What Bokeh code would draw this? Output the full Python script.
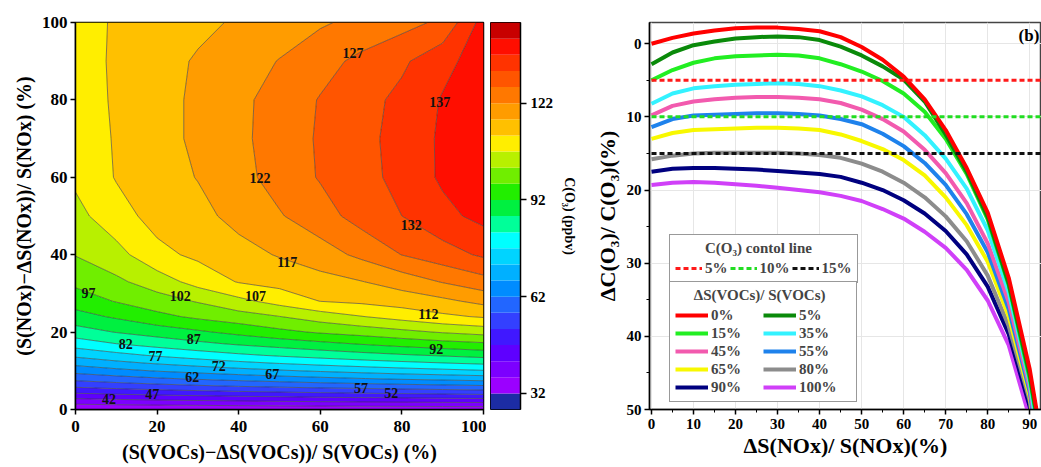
import numpy as np
from bokeh.plotting import figure
from bokeh.layouts import row
from bokeh.models import Range1d, FixedTicker, Legend, LegendItem
from bokeh.embed import file_html
from bokeh.resources import INLINE
from bokeh.core.properties import value

SERIF = "Liberation Serif"

# ---------------- panel (a): O3 isopleth ----------------
voc_grid = [0, 10, 20, 30, 40, 50, 60, 70, 80, 90, 100]
nox_grid = [0, 2, 4, 6, 8, 10, 12, 14, 17, 20, 24, 28, 33, 40, 50, 60, 70, 80, 90, 100]
o3_ppbv = [
    [32.5, 32.6, 32.7, 32.8, 32.9, 33.0, 33.1, 33.2, 33.3, 33.4, 33.5],
    [39.1, 39.7, 40.3, 40.7, 41.1, 41.5, 41.9, 42.2, 42.4, 42.7, 42.9],
    [46.3, 47.2, 48.0, 48.7, 49.4, 50.0, 50.6, 51.1, 51.6, 52.0, 52.5],
    [52.9, 54.1, 55.2, 56.2, 57.1, 57.9, 58.7, 59.3, 60.0, 60.6, 61.2],
    [58.6, 60.1, 61.5, 62.7, 63.8, 64.9, 65.9, 66.9, 67.8, 68.5, 69.3],
    [63.8, 65.6, 67.3, 68.7, 70.1, 71.4, 72.6, 73.7, 74.8, 75.7, 76.6],
    [68.6, 70.7, 72.6, 74.3, 75.9, 77.3, 78.6, 79.8, 80.9, 81.9, 82.9],
    [73.1, 75.4, 77.6, 79.4, 81.1, 82.6, 83.9, 85.2, 86.4, 87.5, 88.7],
    [79.4, 82.0, 84.0, 85.9, 87.7, 89.2, 90.8, 92.4, 93.9, 95.2, 96.3],
    [84.7, 87.2, 89.2, 91.2, 93.4, 95.7, 97.6, 99.0, 100.7, 102.4, 103.8],
    [90.1, 92.7, 95.6, 98.0, 99.9, 101.9, 104.4, 106.8, 108.9, 111.0, 112.5],
    [94.3, 97.3, 99.9, 102.4, 105.7, 108.9, 112.1, 113.0, 114.3, 115.9, 118.4],
    [98.2, 101.0, 104.4, 108.9, 112.3, 113.7, 115.2, 116.8, 119.2, 122.3, 125.1],
    [102.2, 105.2, 110.7, 113.0, 115.2, 117.4, 119.8, 123.1, 127.1, 129.9, 132.8],
    [105.4, 110.1, 113.7, 115.5, 118.6, 121.6, 124.9, 129.0, 132.0, 135.6, 138.5],
    [108.0, 112.3, 114.8, 117.2, 120.4, 123.9, 127.4, 130.2, 133.6, 137.8, 141.0],
    [108.6, 112.5, 115.3, 117.9, 120.9, 124.2, 127.6, 130.4, 133.9, 137.8, 141.0],
    [109.3, 112.7, 115.3, 117.9, 120.8, 124.0, 127.3, 130.1, 133.3, 137.4, 140.5],
    [109.6, 112.8, 115.2, 117.5, 119.8, 122.2, 125.2, 128.2, 131.1, 135.5, 139.5],
    [109.8, 112.6, 114.2, 115.9, 117.6, 119.5, 121.4, 123.3, 125.3, 128.0, 139.0],
]
o3_levels = list(range(27, 148, 5))
o3_colors = ["#1C2CA4", "#9B00FF", "#7C00FF", "#5E00FF", "#4018FF", "#3340FF",
             "#2266FF", "#008CFF", "#00B0FF", "#00D4FF", "#00FFFF", "#00FF99",
             "#00F040", "#22EE00", "#70EE00", "#B8F000", "#FFEE00", "#FFC000",
             "#FF9C00", "#FF7800", "#FF5500", "#FF3300", "#FF0E00", "#C80000"]
label_vals = [42, 47, 52, 57, 62, 67, 72, 77, 82, 87, 92, 97, 102, 107, 112, 117, 122, 127, 132, 137]
label_voc = [8.2, 18.8, 77.4, 70.0, 28.6, 48.2, 35.1, 19.6, 12.3, 29.0, 88.4, 3.2, 25.7, 44.1, 86.5, 51.9, 45.2, 68.0, 82.3, 89.3]
label_nox = [2.6, 3.9, 4.3, 5.6, 8.3, 9.2, 11.3, 13.9, 16.9, 18.1, 15.6, 30.0, 29.2, 29.2, 24.8, 38.2, 59.7, 92.0, 47.7, 79.4]
cbar_ticks = [32, 62, 92, 122]
axis_ticks_a = [0, 20, 40, 60, 80, 100]

# ---------------- panel (b): O3 response curves ----------------
nox_cut = [0, 5, 10, 15, 20, 25, 30, 35, 40, 45, 50, 55, 60, 65, 70, 75, 80, 85]
voc_names = ["0%", "5%", "15%", "35%", "45%", "55%", "65%", "80%", "90%", "100%"]
voc_colors = ["#FF0000", "#0A8A0A", "#22EE22", "#33F2FF", "#F25AAE",
              "#1E82EC", "#F8F800", "#8C8C8C", "#00007F", "#D040F8"]
dc_voc0 = [0, -0.8, -1.4, -1.8, -2.1, -2.2, -2.2, -2.0, -1.7, -0.9, 0.45, 2.2, 4.5, 7.6, 11.8, 17.0, 23.1, 32.0]
dc_voc5 = [2.8, 1.2, 0.2, -0.3, -0.7, -0.9, -1.0, -0.9, -0.5, 0.4, 1.6, 3.1, 4.9, 7.9, 12.4, 17.5, 23.7, 32.8]
dc_voc15 = [5.0, 3.6, 2.6, 2.0, 1.7, 1.6, 1.5, 1.6, 2.0, 2.8, 3.8, 5.1, 6.8, 9.3, 13.0, 17.8, 24.0, 33.0]
dc_voc35 = [8.2, 6.8, 6.1, 5.8, 5.6, 5.5, 5.4, 5.5, 5.8, 6.4, 7.2, 8.4, 10.0, 12.5, 15.7, 19.8, 25.5, 34.0]
dc_voc45 = [9.8, 8.5, 7.9, 7.6, 7.4, 7.3, 7.3, 7.4, 7.6, 8.1, 9.0, 10.3, 12.0, 14.5, 17.7, 21.8, 27.3, 35.3]
dc_voc55 = [11.4, 10.3, 9.8, 9.7, 9.6, 9.5, 9.5, 9.6, 9.8, 10.3, 11.0, 12.3, 14.0, 16.3, 19.3, 23.3, 28.5, 36.3]
dc_voc65 = [13.0, 12.2, 11.8, 11.7, 11.6, 11.5, 11.5, 11.6, 11.8, 12.4, 13.3, 14.4, 15.9, 18.0, 21.0, 24.8, 29.8, 37.3]
dc_voc80 = [15.8, 15.3, 15.0, 14.9, 14.9, 14.9, 14.9, 15.0, 15.2, 15.6, 16.4, 17.5, 19.0, 21.0, 23.6, 27.0, 31.7, 38.6]
dc_voc90 = [17.5, 17.1, 17.0, 17.0, 17.1, 17.2, 17.4, 17.6, 17.8, 18.2, 19.0, 20.0, 21.4, 23.2, 25.6, 28.8, 33.2, 39.7]
dc_voc100 = [19.3, 19.0, 18.9, 19.0, 19.2, 19.4, 19.7, 20.0, 20.3, 20.8, 21.5, 22.6, 23.9, 25.7, 27.9, 30.9, 35.1, 41.2]
dc_at90 = [44.5, 45.3, 45.8, 46.3, 47.0, 47.6, 48.2, 48.8, 49.6, None]
nox_end = [91.6, 91.4, 91.3, 91.0, 90.8, 90.6, 90.5, 90.3, 90.1, 89.4]
dc_end = 50
ctrl_levels = [5, 10, 15]
ctrl_names = ["5%", "10%", "15%"]
ctrl_colors = ["#FF1A1A", "#22DD22", "#111111"]
ctrl_x = [0, 95]
axis_ticks_bx = list(range(0, 91, 10))
axis_ticks_by = [0, 10, 20, 30, 40, 50]


def style_axes(p, tick_size, label_size):
    for ax in p.axis:
        ax.axis_line_color = "black"
        ax.axis_line_width = 1.5
        ax.major_tick_line_color = "black"
        ax.major_tick_line_width = 1.5
        ax.major_tick_out = 5
        ax.major_tick_in = 0
        ax.minor_tick_line_color = "black"
        ax.minor_tick_out = 0
        ax.minor_tick_in = 0
        ax.major_label_standoff = 3
        ax.axis_label_standoff = 4
        ax.major_label_text_font = SERIF
        ax.major_label_text_font_style = "bold"
        ax.major_label_text_font_size = tick_size
        ax.major_label_text_color = "black"
        ax.axis_label_text_font = SERIF
        ax.axis_label_text_font_style = "bold"
        ax.axis_label_text_font_size = label_size
        ax.axis_label_text_color = "black"


# ---- figure a ----
p1 = figure(width=486, height=467, min_border_left=75, min_border_right=3,
            min_border_top=18, min_border_bottom=58,
            x_range=Range1d(0, 100), y_range=Range1d(0, 100),
            output_backend="svg", toolbar_location=None)
p1.contour(voc_grid, nox_grid, np.array(o3_ppbv), o3_levels,
           fill_color=o3_colors, line_color="#3a3a3a", line_width=0.8, line_alpha=0.75)
p1.text(x=label_voc, y=label_nox, text=[str(v) for v in label_vals],
        text_font=value(SERIF), text_font_style="bold", text_font_size="14px",
        text_align="center", text_baseline="middle", text_color="#111111")
p1.grid.visible = False
p1.outline_line_color = "black"
p1.outline_line_width = 1.5
style_axes(p1, "17px", "20px")
p1.xaxis.ticker = FixedTicker(ticks=axis_ticks_a)
p1.yaxis.ticker = FixedTicker(ticks=axis_ticks_a)
p1.xaxis.major_label_standoff = 6
p1.xaxis.axis_label_standoff = 6
p1.xaxis.axis_label = "(S(VOCs)\u2212\u0394S(VOCs))/ S(VOCs) (%)"
p1.yaxis.axis_label = "(S(NOx)\u2212\u0394S(NOx))/ S(NOx) (%)"

# ---- colour bar ----
p2 = figure(width=94, height=467, min_border_left=4, min_border_right=57,
            min_border_top=18, min_border_bottom=58,
            x_range=Range1d(0, 1), y_range=Range1d(o3_levels[0], o3_levels[-1]),
            y_axis_location="right", output_backend="svg", toolbar_location=None)
p2.quad(left=0, right=1, bottom=o3_levels[:-1], top=o3_levels[1:],
        fill_color=o3_colors, line_color=None)
p2.grid.visible = False
p2.xaxis.visible = False
p2.outline_line_color = "black"
p2.outline_line_width = 1
style_axes(p2, "15px", "14px")
p2.yaxis.ticker = FixedTicker(ticks=cbar_ticks)
p2.yaxis.major_tick_out = 6
p2.yaxis.major_label_standoff = 4
p2.yaxis.axis_label_standoff = 6
p2.yaxis.axis_label = "C(O\u2083) (ppbv)"

# ---- figure b ----
p3 = figure(width=461, height=467, min_border_left=69, min_border_right=0,
            min_border_top=22, min_border_bottom=51,
            x_range=Range1d(-0.48, 92.8), y_range=Range1d(50, -2.9),
            output_backend="svg", toolbar_location=None)
p3.grid.grid_line_color = "#e6e6e6"
p3.outline_line_color = "#444444"
p3.outline_line_width = 1.5
style_axes(p3, "15px", "22px")
p3.xaxis.ticker = FixedTicker(ticks=axis_ticks_bx, minor_ticks=list(range(5, 91, 10)))
p3.yaxis.ticker = FixedTicker(ticks=axis_ticks_by, minor_ticks=[5, 15, 25, 35, 45])
for ax in p3.axis:
    ax.minor_tick_out = 3
p3.xaxis.major_label_standoff = 4
p3.xaxis.axis_label_standoff = 1
p3.xaxis.axis_label = "\u0394S(NOx)/ S(NOx)(%)"
p3.yaxis.axis_label = "\u0394C(O\u2083)/ C(O\u2083)(%)"

series = [dc_voc0, dc_voc5, dc_voc15, dc_voc35, dc_voc45,
          dc_voc55, dc_voc65, dc_voc80, dc_voc90, dc_voc100]
curve_r = [None] * len(series)
for i in reversed(range(len(series))):
    xs = list(nox_cut)
    ys = list(series[i])
    if dc_at90[i] is not None:
        xs.append(90)
        ys.append(dc_at90[i])
    xs.append(nox_end[i])
    ys.append(dc_end)
    curve_r[i] = p3.line(xs, ys, line_color=voc_colors[i], line_width=4)

ctrl_r = []
for lvl, col in zip(ctrl_levels, ctrl_colors):
    ctrl_r.append(p3.line(ctrl_x, [lvl, lvl], line_color=col, line_width=3, line_dash="5 3"))

p3.text(x=[92.3], y=[-1.1], text=["(b)"], text_font=value(SERIF), text_font_style="bold",
        text_font_size="17px", text_align="right", text_baseline="middle", text_color="black")


def style_legend(lg):
    lg.border_line_color = "#333333"
    lg.border_line_width = 1.5
    lg.background_fill_color = "white"
    lg.background_fill_alpha = 1
    lg.label_text_font = SERIF
    lg.label_text_font_style = "bold"
    lg.label_text_font_size = "15px"
    lg.title_text_font = SERIF
    lg.title_text_font_style = "bold"
    lg.title_text_font_size = "15px"
    lg.margin = 0
    lg.padding = 5
    lg.title_standoff = 2
    lg.label_height = 18
    lg.glyph_height = 18
    lg.label_standoff = 3


NB = "\u00a0"
leg_top = Legend(items=[LegendItem(label=n, renderers=[r]) for n, r in zip(ctrl_names, ctrl_r)],
                 orientation="horizontal", title=NB * 8 + "C(O\u2083) contol line",
                 location=(20, 126))
style_legend(leg_top)
leg_top.glyph_width = 27
leg_top.label_width = 22
leg_top.spacing = 2

leg_bot = Legend(items=[LegendItem(label=n, renderers=[r]) for n, r in zip(voc_names, curve_r)],
                 orientation="horizontal", ncols=2, title=NB * 5 + "\u0394S(VOCs)/ S(VOCs)",
                 location=(20, 7))
style_legend(leg_bot)
leg_bot.glyph_width = 33
leg_bot.label_width = 52
leg_bot.spacing = 0

p3.add_layout(leg_top)
p3.add_layout(leg_bot)

layout = row(p1, p2, p3)
open("out.html", "w").write(file_html(layout, INLINE))
